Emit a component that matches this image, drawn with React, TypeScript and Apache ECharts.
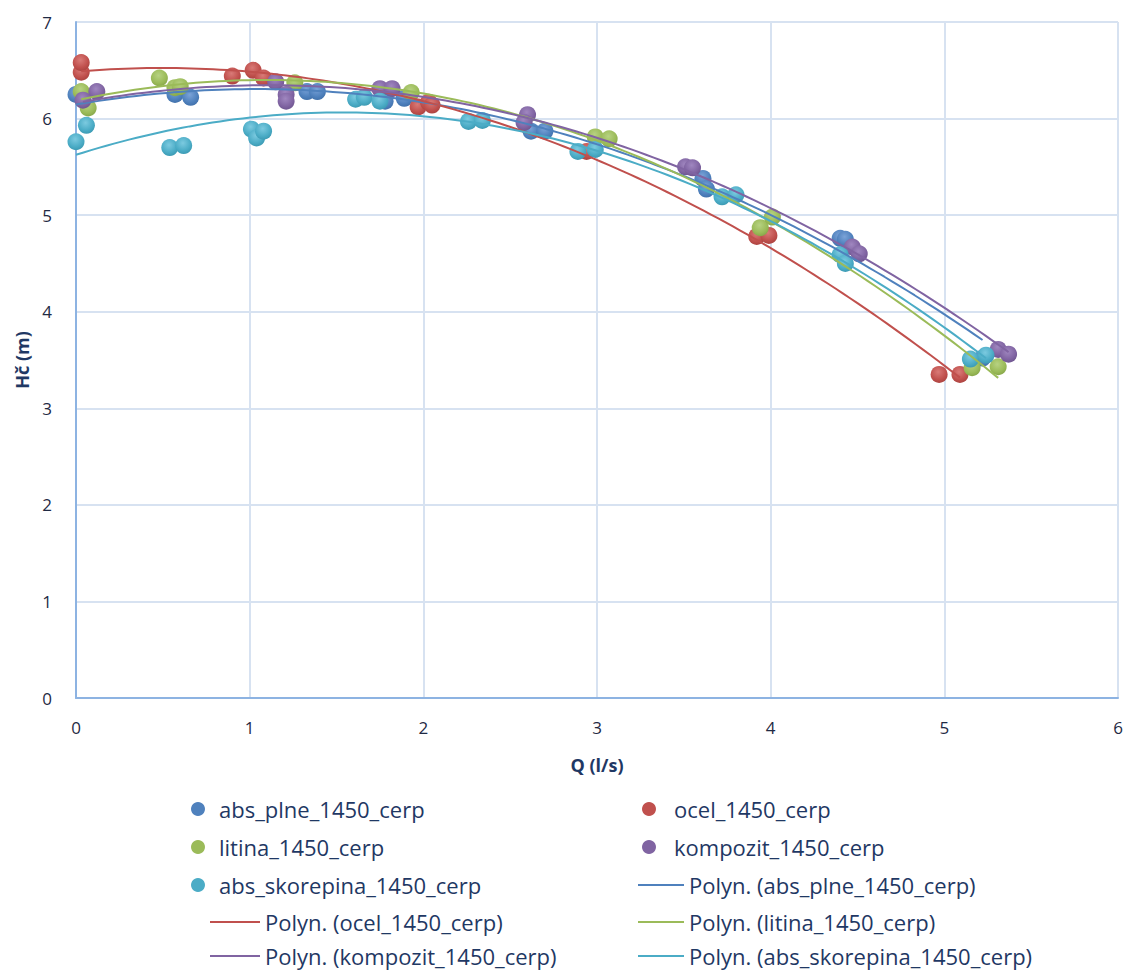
import React, { useEffect, useRef } from "react";
import * as echarts from "echarts";

// ---- Data (Q in l/s, Hč in m) ----
const absPlne: [number, number][] = [
  [0.0, 6.25], [0.57, 6.25], [0.66, 6.22], [1.33, 6.28], [1.39, 6.28],
  [1.78, 6.18], [1.89, 6.21], [2.62, 5.87], [2.7, 5.87], [3.61, 5.38],
  [3.63, 5.27], [4.4, 4.76], [4.43, 4.75], [5.22, 3.52],
];
const ocel: [number, number][] = [
  [0.03, 6.48], [0.03, 6.58], [0.9, 6.44], [1.02, 6.5], [1.08, 6.42],
  [1.97, 6.12], [2.03, 6.17], [2.05, 6.14], [2.94, 5.66], [3.92, 4.78],
  [3.99, 4.79], [4.97, 3.35], [5.09, 3.35],
];
const litina: [number, number][] = [
  [0.03, 6.28], [0.07, 6.11], [0.48, 6.42], [0.57, 6.32], [0.6, 6.33],
  [1.26, 6.37], [1.93, 6.27], [2.99, 5.81], [3.07, 5.79], [3.94, 4.87],
  [4.01, 4.98], [5.16, 3.42], [5.31, 3.43],
];
const kompozit: [number, number][] = [
  [0.04, 6.19], [0.12, 6.28], [1.15, 6.38], [1.21, 6.25], [1.21, 6.18],
  [1.75, 6.31], [1.82, 6.31], [2.6, 6.04], [2.58, 5.96], [3.51, 5.5],
  [3.55, 5.49], [4.47, 4.67], [4.51, 4.6], [5.31, 3.61], [5.37, 3.56],
];
const absSkorepina: [number, number][] = [
  [0.0, 5.76], [0.06, 5.93], [0.54, 5.7], [0.62, 5.72], [1.01, 5.89],
  [1.04, 5.8], [1.08, 5.87], [1.61, 6.2], [1.66, 6.22], [1.75, 6.18],
  [2.26, 5.97], [2.34, 5.98], [2.89, 5.66], [2.99, 5.68], [3.72, 5.19],
  [3.8, 5.21], [4.4, 4.59], [4.43, 4.5], [5.15, 3.51], [5.24, 3.55],
];

const seriesNames = [
  "abs_plne_1450_cerp",
  "ocel_1450_cerp",
  "litina_1450_cerp",
  "kompozit_1450_cerp",
  "abs_skorepina_1450_cerp",
];
const seriesData = [absPlne, ocel, litina, kompozit, absSkorepina];
const colors = ["#4F81BD", "#C0504D", "#9BBB59", "#8064A2", "#4BACC6"];
const lightColors = ["#7BA3D8", "#D97A77", "#B7D282", "#A087C0", "#7CCAE0"];
const darkColors = ["#3B6AA3", "#A33D3A", "#7F9E43", "#674F88", "#3592AB"];

const xTicks = { min: 0, max: 6, interval: 1 };
const yTicks = { min: 0, max: 7, interval: 1 };

// Least-squares quadratic fit (Excel "Polyn." trendline, order 2)
function quadFit(pts: [number, number][]) {
  let s0 = 0, s1 = 0, s2 = 0, s3 = 0, s4 = 0, t0 = 0, t1 = 0, t2 = 0;
  for (const [x, y] of pts) {
    s0 += 1; s1 += x; s2 += x * x; s3 += x * x * x; s4 += x * x * x * x;
    t0 += y; t1 += x * y; t2 += x * x * y;
  }
  const A = [
    [s0, s1, s2, t0],
    [s1, s2, s3, t1],
    [s2, s3, s4, t2],
  ];
  for (let i = 0; i < 3; i++) {
    let p = i;
    for (let r = i + 1; r < 3; r++) if (Math.abs(A[r][i]) > Math.abs(A[p][i])) p = r;
    [A[i], A[p]] = [A[p], A[i]];
    for (let r = 0; r < 3; r++) {
      if (r === i) continue;
      const f = A[r][i] / A[i][i];
      for (let c = i; c < 4; c++) A[r][c] -= f * A[i][c];
    }
  }
  return [A[0][3] / A[0][0], A[1][3] / A[1][1], A[2][3] / A[2][2]];
}

function trend(pts: [number, number][]) {
  const [c0, c1, c2] = quadFit(pts);
  const xs = pts.map((p) => p[0]);
  const lo = Math.min(...xs);
  const hi = Math.max(...xs);
  const out: [number, number][] = [];
  const n = 120;
  for (let i = 0; i <= n; i++) {
    const x = lo + ((hi - lo) * i) / n;
    out.push([x, c0 + c1 * x + c2 * x * x]);
  }
  return out;
}

const FONT = "'Open Sans', 'Noto Sans', sans-serif";
const TEXT_COLOR = "#1F3864";
const trendName = (n: string) => `Polyn. (${n})`;

// legend layout: [series index, kind, column, row]
const legendCells: [number, "dot" | "line", number, number][] = [
  [0, "dot", 0, 0], [1, "dot", 1, 0],
  [2, "dot", 0, 1], [3, "dot", 1, 1],
  [4, "dot", 0, 2], [0, "line", 1, 2],
  [1, "line", 0, 3], [2, "line", 1, 3],
  [3, "line", 0, 4], [4, "line", 1, 4],
];
const rowCenters = [810, 848, 886, 923, 957];

export default function App() {
  const ref = useRef<HTMLDivElement>(null);
  useEffect(() => {
    if (!ref.current) return;
    const chart = echarts.init(ref.current, undefined, { renderer: "svg" });

    const scatter = seriesNames.map((name, i) => ({
      name,
      type: "scatter",
      data: seriesData[i],
      symbol: "circle",
      symbolSize: 17,
      z: 2,
      itemStyle: {
        opacity: 1,
        color: {
          type: "radial",
          x: 0.45,
          y: 0.35,
          r: 0.75,
          colorStops: [
            { offset: 0, color: lightColors[i] },
            { offset: 0.6, color: colors[i] },
            { offset: 1, color: darkColors[i] },
          ],
        },
      },
    }));
    const lines = seriesNames.map((name, i) => ({
      name: trendName(name),
      type: "line",
      data: trend(seriesData[i]),
      symbol: "none",
      showSymbol: false,
      z: 5,
      lineStyle: { color: colors[i], width: 2 },
      itemStyle: { color: colors[i] },
    }));

    const legendText = { color: TEXT_COLOR, fontSize: 22, fontFamily: FONT, lineHeight: 22 };
    const legends = legendCells.map(([si, kind, col, row]) => {
      const isDot = kind === "dot";
      let left: number, itemWidth: number;
      if (isDot) {
        left = col === 0 ? 186 : 637;
        itemWidth = col === 0 ? 32 : 40;
      } else {
        left = col === 0 ? 205 : 633;
        itemWidth = col === 0 ? 50 : 46;
      }
      return {
        orient: "horizontal",
        left,
        top: rowCenters[row] - 17,
        itemWidth,
        itemHeight: isDot ? 14 : 2,
        textStyle: legendText,
        data: [
          {
            name: isDot ? seriesNames[si] : trendName(seriesNames[si]),
            icon: isDot ? "circle" : "rect",
            itemStyle: { color: colors[si] },
          },
        ],
      };
    });

    chart.setOption({
      animation: false,
      backgroundColor: "#ffffff",
      grid: { left: 76, right: 8, top: 22, bottom: 274, containLabel: false },
      xAxis: {
        type: "value",
        ...xTicks,
        name: "Q (l/s)",
        nameLocation: "middle",
        nameGap: 58,
        nameTextStyle: { color: TEXT_COLOR, fontWeight: "bold", fontSize: 18, fontFamily: FONT },
        axisLine: { show: true, lineStyle: { color: "#8DB3E2", width: 2 } },
        axisTick: { show: false },
        axisLabel: { color: "#1F2A44", fontSize: 17, fontFamily: FONT, margin: 21 },
        splitLine: { show: true, lineStyle: { color: "#D7E2F1", width: 2 } },
      },
      yAxis: {
        type: "value",
        ...yTicks,
        name: "Hč (m)",
        nameLocation: "middle",
        nameGap: 43,
        nameRotate: 90,
        nameTextStyle: { color: TEXT_COLOR, fontWeight: "bold", fontSize: 18, fontFamily: FONT },
        axisLine: { show: true, lineStyle: { color: "#8DB3E2", width: 2 } },
        axisTick: { show: false },
        axisLabel: { color: "#1F2A44", fontSize: 17, fontFamily: FONT, margin: 24 },
        splitLine: { show: true, lineStyle: { color: "#D7E2F1", width: 2 } },
      },
      legend: legends,
      series: [...scatter, ...lines],
    });
    return () => chart.dispose();
  }, []);
  return <div ref={ref} style={{ width: 1126, height: 972, position: "absolute", left: 0, top: 0 }} />;
}
